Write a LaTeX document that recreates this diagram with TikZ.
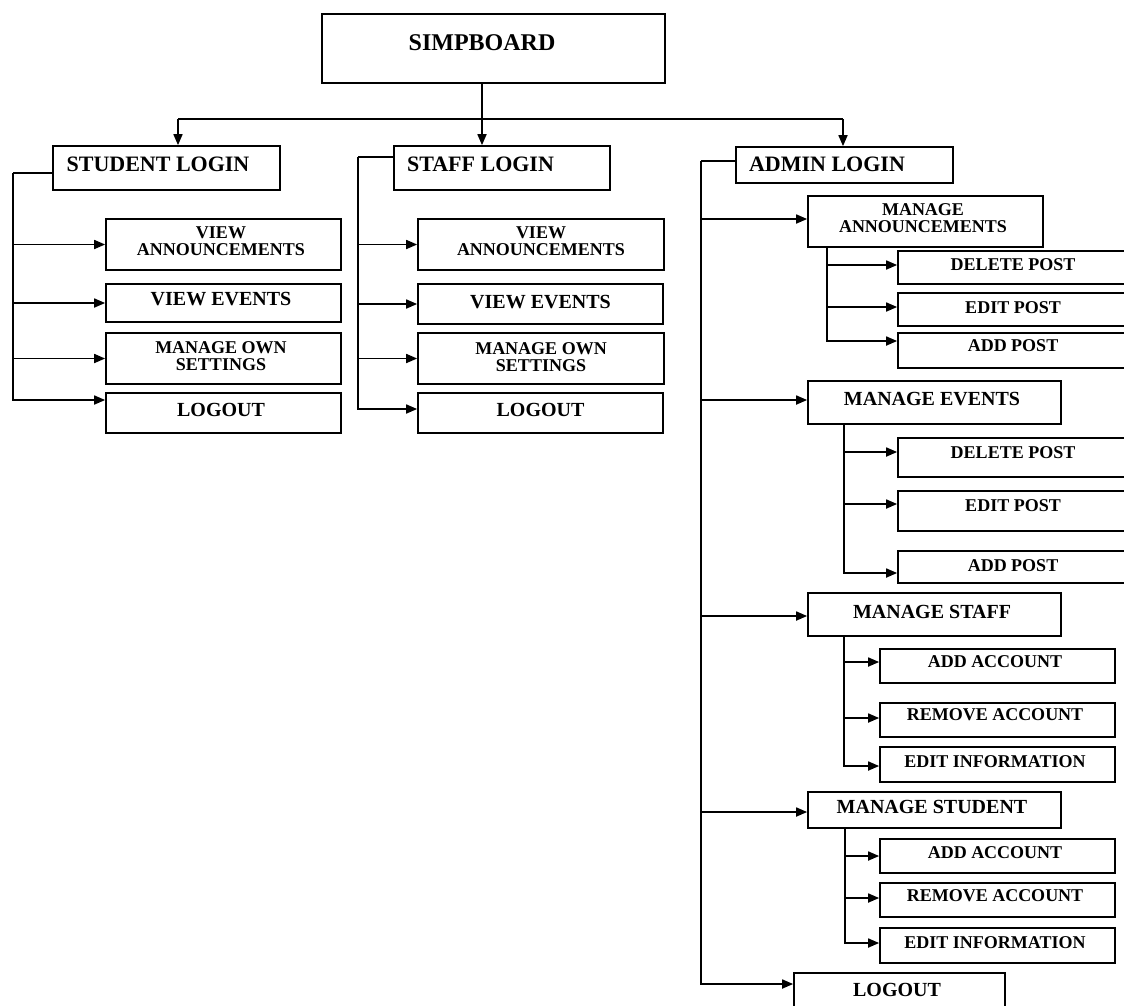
\documentclass[tikz,border=0pt]{standalone}
\usepackage{fontspec}
\setmainfont{Liberation Serif}
\usetikzlibrary{arrows.meta,fit}

\begin{document}
\begin{tikzpicture}[x=1pt,y=-1pt,
  wire/.style={line width=1.7pt},
  arr/.style={wire,-{Triangle[length=11pt,width=9pt]}},
  box/.style={draw,line width=1.7pt,inner sep=0pt},
  f24/.style={font=\fontsize{24}{24}\selectfont\bfseries},
  f22/.style={font=\fontsize{22}{22}\selectfont\bfseries},
  f20/.style={font=\fontsize{20}{20}\selectfont\bfseries},
  f18/.style={font=\fontsize{18}{17}\selectfont\bfseries,align=center},
]
\useasboundingbox (0,0) rectangle (1124,1005);
\fill[white] (0,0) rectangle (1124,1005);
\clip (0,0) rectangle (1124,1005);

% ---- root and the three logins ----
\node[box,fit={(322,14) (665,83)},label={[f24,xshift=-11.5pt,yshift=5.5pt]center:SIMPBOARD}] (root) {};
\node[box,fit={(53,146) (280,190)},label={[f22,xshift=-8.5pt,yshift=4pt]center:STUDENT LOGIN}] (stu) {};
\node[box,fit={(394,146) (610,190)},label={[f22,xshift=-21.5pt,yshift=4pt]center:STAFF LOGIN}] (stf) {};
\node[box,fit={(736,147) (953,183)},label={[f22,xshift=-17.5pt,yshift=1pt]center:ADMIN LOGIN}] (adm) {};

% ---- student menu ----
\node[box,fit={(106,219) (341,270)},label={[f18,xshift=-2.5pt,yshift=3pt]center:{VIEW\\ANNOUNCEMENTS}}] (sva) {};
\node[box,fit={(106,284) (341,322)},label={[f20,xshift=-2.5pt,yshift=4pt]center:VIEW EVENTS}] (sve) {};
\node[box,fit={(106,333) (341,384)},label={[f18,xshift=-2.5pt,yshift=2.5pt]center:{MANAGE OWN\\SETTINGS}}] (smo) {};
\node[box,fit={(106,393) (341,433)},label={[f20,xshift=-2.5pt,yshift=3pt]center:LOGOUT}] (slo) {};

% ---- staff menu ----
\node[box,fit={(418,219) (664,270)},label={[f18,yshift=3pt]center:{VIEW\\ANNOUNCEMENTS}}] (tva) {};
\node[box,fit={(418,284) (663,324)},label={[f20,yshift=2pt]center:VIEW EVENTS}] (tve) {};
\node[box,fit={(418,333) (664,384)},label={[f18,yshift=1.5pt]center:{MANAGE OWN\\SETTINGS}}] (tmo) {};
\node[box,fit={(418,393) (663,433)},label={[f20,yshift=3pt]center:LOGOUT}] (tlo) {};

% ---- admin menu ----
\node[box,fit={(808,196) (1043,247)},label={[f18,xshift=-2.5pt,yshift=3pt]center:{MANAGE\\ANNOUNCEMENTS}}] (ama) {};
\node[box,fit={(898,251) (1128,284)},label={[f18,yshift=2.5pt]center:DELETE POST}] (ap1) {};
\node[box,fit={(898,293) (1128,326)},label={[f18,yshift=1.5pt]center:EDIT POST}] (ap2) {};
\node[box,fit={(898,333) (1128,368)},label={[f18,yshift=4.5pt]center:ADD POST}] (ap3) {};

\node[box,fit={(808,381) (1061,424)},label={[f20,xshift=-2.5pt,yshift=3.5pt]center:MANAGE EVENTS}] (ame) {};
\node[box,fit={(898,438) (1128,477)},label={[f18,yshift=4.5pt]center:DELETE POST}] (ep1) {};
\node[box,fit={(898,491) (1128,531)},label={[f18,yshift=5pt]center:EDIT POST}] (ep2) {};
\node[box,fit={(898,551) (1128,583)},label={[f18,yshift=1pt]center:ADD POST}] (ep3) {};

\node[box,fit={(808,593) (1061,636)},label={[f20,xshift=-2.5pt,yshift=2.5pt]center:MANAGE STAFF}] (ams) {};
\node[box,fit={(880,649) (1115,683)},label={[f18,xshift=-2.5pt,yshift=4pt]center:ADD ACCOUNT}] (sa1) {};
\node[box,fit={(880,703) (1115,737)},label={[f18,xshift=-2.5pt,yshift=5pt]center:REMOVE ACCOUNT}] (sa2) {};
\node[box,fit={(880,747) (1115,782)},label={[f18,xshift=-2.5pt,yshift=2.5pt]center:EDIT INFORMATION}] (sa3) {};

\node[box,fit={(808,792) (1061,828)},label={[f20,xshift=-2.5pt,yshift=3pt]center:MANAGE STUDENT}] (amt) {};
\node[box,fit={(880,839) (1115,873)},label={[f18,xshift=-2.5pt,yshift=3pt]center:ADD ACCOUNT}] (ta1) {};
\node[box,fit={(880,883) (1115,917)},label={[f18,xshift=-2.5pt,yshift=4pt]center:REMOVE ACCOUNT}] (ta2) {};
\node[box,fit={(880,928) (1115,963)},label={[f18,xshift=-2.5pt,yshift=2.5pt]center:EDIT INFORMATION}] (ta3) {};

\node[box,fit={(794,973) (1005,1010)},label={[f20,xshift=-2.5pt,yshift=1.5pt]center:LOGOUT}] (alo) {};

% ---- top distribution bus ----
\coordinate (busM) at (482,119);
\coordinate (busL) at (178,119);
\coordinate (busR) at (843,119);
\draw[arr] (root.south -| busM) -- (busM |- stf.north);
\draw[wire] (busL) -- (busR);
\draw[arr] (busL) -- (busL |- stu.north);
\draw[arr] (busR) -- (busR |- adm.north);

% ---- student trunk ----
\coordinate (sT) at (13,173);
\draw[wire] (stu.west |- sT) -- (sT);
\draw[arr] (sT) |- ([yshift=13pt]slo.west);
\draw[arr] (sT |- sva.west) -- (sva.west);
\draw[arr] (sT |- sve.west) -- (sve.west);
\draw[arr] (sT |- smo.west) -- (smo.west);

% ---- staff trunk ----
\coordinate (tT) at (358,157);
\draw[wire] (stf.west |- tT) -- (tT);
\draw[arr] (tT) |- ([yshift=4pt]tlo.west);
\draw[arr] (tT |- tva.west) -- (tva.west);
\draw[arr] (tT |- tve.west) -- (tve.west);
\draw[arr] (tT |- tmo.west) -- (tmo.west);

% ---- admin trunk ----
\coordinate (aT) at (701,161);
\coordinate (aE1) at ([yshift=2.5pt]ama.west);
\coordinate (aE2) at ([yshift=2.5pt]ame.west);
\coordinate (aE3) at ([yshift=-1.5pt]ams.west);
\coordinate (aE4) at ([yshift=-2pt]amt.west);
\draw[wire] (adm.west |- aT) -- (aT);
\draw[arr] (aT) |- ([yshift=7.5pt]alo.west);
\draw[arr] (aT |- aE1) -- (aE1);
\draw[arr] (aT |- aE2) -- (aE2);
\draw[arr] (aT |- aE3) -- (aE3);
\draw[arr] (aT |- aE4) -- (aE4);

% ---- announcements sub-menu ----
\coordinate (maT) at (827,247);
\coordinate (m1) at ([yshift=2.5pt]ap1.west);
\coordinate (m2) at ([yshift=2.5pt]ap2.west);
\draw[arr] (maT) |- ([yshift=9.5pt]ap3.west);
\draw[arr] (maT |- m1) -- (m1);
\draw[arr] (maT |- m2) -- (m2);

% ---- events sub-menu ----
\coordinate (meT) at (844,424);
\coordinate (e1) at ([yshift=5.5pt]ep1.west);
\coordinate (e2) at ([yshift=7pt]ep2.west);
\draw[arr] (meT) |- ([yshift=-6pt]ep3.west);
\draw[arr] (meT |- e1) -- (e1);
\draw[arr] (meT |- e2) -- (e2);

% ---- staff accounts sub-menu ----
\coordinate (msT) at (844,636);
\coordinate (s1) at ([yshift=4pt]sa1.west);
\coordinate (s2) at ([yshift=2pt]sa2.west);
\draw[arr] (msT) |- ([yshift=-1.5pt]sa3.west);
\draw[arr] (msT |- s1) -- (s1);
\draw[arr] (msT |- s2) -- (s2);

% ---- student accounts sub-menu ----
\coordinate (mtT) at (845,828);
\coordinate (u2) at ([yshift=2pt]ta2.west);
\draw[arr] (mtT) |- ([yshift=2.5pt]ta3.west);
\draw[arr] (mtT |- ta1.west) -- (ta1.west);
\draw[arr] (mtT |- u2) -- (u2);
\end{tikzpicture}
\end{document}
